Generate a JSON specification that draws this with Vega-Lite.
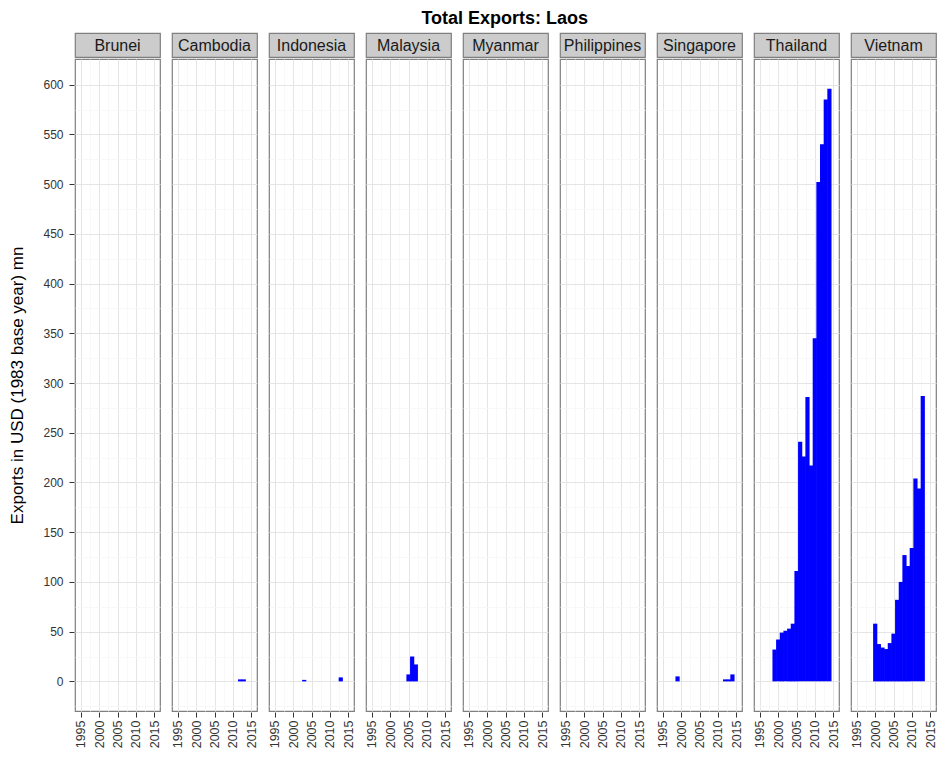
{
  "$schema": "https://vega.github.io/schema/vega-lite/v6.json",
  "padding": {"left": 8, "top": 10, "right": 5, "bottom": 5},
  "background": "white",
  "title": {"text": "Total Exports: Laos", "fontSize": 18, "fontWeight": "bold", "font": "Liberation Sans", "color": "#000000", "anchor": "middle", "offset": 4, "dx": 32},
  "config": {"font": "Liberation Sans", "concat": {"spacing": 0}},
  "spacing": 0,
  "datasets": {
    "countries": [
      {"country": "Brunei"}, {"country": "Cambodia"}, {"country": "Indonesia"},
      {"country": "Malaysia"}, {"country": "Myanmar"}, {"country": "Philippines"},
      {"country": "Singapore"}, {"country": "Thailand"}, {"country": "Vietnam"}
    ],
    "exports": [
      {"country": "Brunei", "year": 2005, "value": 0},
      {"country": "Cambodia", "year": 2012, "value": 2},
      {"country": "Cambodia", "year": 2013, "value": 2},
      {"country": "Indonesia", "year": 2003, "value": 1.5},
      {"country": "Indonesia", "year": 2013, "value": 4},
      {"country": "Malaysia", "year": 2005, "value": 7},
      {"country": "Malaysia", "year": 2006, "value": 25},
      {"country": "Malaysia", "year": 2007, "value": 17},
      {"country": "Myanmar", "year": 2005, "value": 0},
      {"country": "Philippines", "year": 2005, "value": 0},
      {"country": "Singapore", "year": 1999, "value": 5},
      {"country": "Singapore", "year": 2012, "value": 2},
      {"country": "Singapore", "year": 2013, "value": 2},
      {"country": "Singapore", "year": 2014, "value": 7},
      {"country": "Thailand", "year": 1999, "value": 32},
      {"country": "Thailand", "year": 2000, "value": 42},
      {"country": "Thailand", "year": 2001, "value": 49},
      {"country": "Thailand", "year": 2002, "value": 51},
      {"country": "Thailand", "year": 2003, "value": 53},
      {"country": "Thailand", "year": 2004, "value": 58},
      {"country": "Thailand", "year": 2005, "value": 111},
      {"country": "Thailand", "year": 2006, "value": 241},
      {"country": "Thailand", "year": 2007, "value": 226},
      {"country": "Thailand", "year": 2008, "value": 286},
      {"country": "Thailand", "year": 2009, "value": 217},
      {"country": "Thailand", "year": 2010, "value": 345},
      {"country": "Thailand", "year": 2011, "value": 502},
      {"country": "Thailand", "year": 2012, "value": 540},
      {"country": "Thailand", "year": 2013, "value": 585},
      {"country": "Thailand", "year": 2014, "value": 596},
      {"country": "Vietnam", "year": 2000, "value": 58},
      {"country": "Vietnam", "year": 2001, "value": 37.5},
      {"country": "Vietnam", "year": 2002, "value": 34},
      {"country": "Vietnam", "year": 2003, "value": 32.5},
      {"country": "Vietnam", "year": 2004, "value": 38.5},
      {"country": "Vietnam", "year": 2005, "value": 48},
      {"country": "Vietnam", "year": 2006, "value": 82},
      {"country": "Vietnam", "year": 2007, "value": 100},
      {"country": "Vietnam", "year": 2008, "value": 127},
      {"country": "Vietnam", "year": 2009, "value": 116},
      {"country": "Vietnam", "year": 2010, "value": 134},
      {"country": "Vietnam", "year": 2011, "value": 204},
      {"country": "Vietnam", "year": 2012, "value": 194},
      {"country": "Vietnam", "year": 2013, "value": 287}
    ]
  },
  "vconcat": [
    {
      "data": {"name": "countries"},
      "facet": {"column": {"field": "country", "type": "nominal", "header": null,
        "sort": ["Brunei", "Cambodia", "Indonesia", "Malaysia", "Myanmar", "Philippines", "Singapore", "Thailand", "Vietnam"]}},
      "spacing": 10,
      "spec": {
        "width": 85,
        "height": 24,
        "view": {"fill": "#CCCCCC", "stroke": "#7F7F7F", "strokeWidth": 1.2},
        "mark": {"type": "text", "fontSize": 16, "font": "Liberation Sans", "color": "#1A1A1A", "baseline": "middle", "align": "center", "dy": 1},
        "encoding": {"text": {"field": "country", "type": "nominal"}}
      }
    },
    {
      "data": {"name": "exports"},
      "facet": {"column": {"field": "country", "type": "nominal", "header": null,
        "sort": ["Brunei", "Cambodia", "Indonesia", "Malaysia", "Myanmar", "Philippines", "Singapore", "Thailand", "Vietnam"]}},
      "spacing": 10,
      "spec": {
        "width": 85,
        "height": 652,
        "view": {"stroke": "#7F7F7F", "strokeWidth": 1.2},
        "mark": {"type": "bar", "width": 4.2, "color": "#0000FF"},
        "encoding": {
          "x": {
            "field": "year", "type": "quantitative",
            "scale": {"domain": [1994.75, 2015.25], "nice": false, "zero": false},
            "axis": {
              "title": null,
              "values": [1995, 1997.5, 2000, 2002.5, 2005, 2007.5, 2010, 2012.5, 2015],
              "format": "d",
              "labelExpr": "datum.value % 5 == 0 ? datum.label : ''",
              "labelAngle": -90,
              "labelOverlap": false,
              "labelFlush": false,
              "labelFontSize": 12.5,
              "labelColor": "#333333",
              "labelPadding": 3,
              "domain": false,
              "tickSize": 5,
              "tickColor": {"condition": {"test": "datum.value % 5 == 0", "value": "#333333"}, "value": "transparent"},
              "grid": true,
              "gridColor": {"condition": {"test": "datum.value % 5 == 0", "value": "#E5E5E5"}, "value": "#F6F6F6"},
              "gridWidth": {"condition": {"test": "datum.value % 5 == 0", "value": 1}, "value": 0.8}
            }
          },
          "y": {
            "field": "value", "type": "quantitative",
            "scale": {"domain": [-29.8, 625.8], "nice": false, "zero": false},
            "axis": {
              "title": "Exports in USD (1983 base year) mn",
              "titleFontSize": 17,
              "titleFontWeight": "normal",
              "titleColor": "#000000",
              "titlePadding": 16,
              "values": [-25, 0, 25, 50, 75, 100, 125, 150, 175, 200, 225, 250, 275, 300, 325, 350, 375, 400, 425, 450, 475, 500, 525, 550, 575, 600],
              "labelExpr": "datum.value % 50 == 0 ? datum.label : ''",
              "labelOverlap": false,
              "labelFlush": false,
              "labelFontSize": 12,
              "labelColor": "#333333",
              "labelPadding": 6,
              "domain": false,
              "tickSize": 5,
              "tickColor": {"condition": {"test": "datum.value % 50 == 0", "value": "#333333"}, "value": "transparent"},
              "grid": true,
              "gridColor": {"condition": {"test": "datum.value % 50 == 0", "value": "#E5E5E5"}, "value": "#F6F6F6"},
              "gridWidth": {"condition": {"test": "datum.value % 50 == 0", "value": 1}, "value": 0.8}
            }
          }
        }
      }
    }
  ]
}
